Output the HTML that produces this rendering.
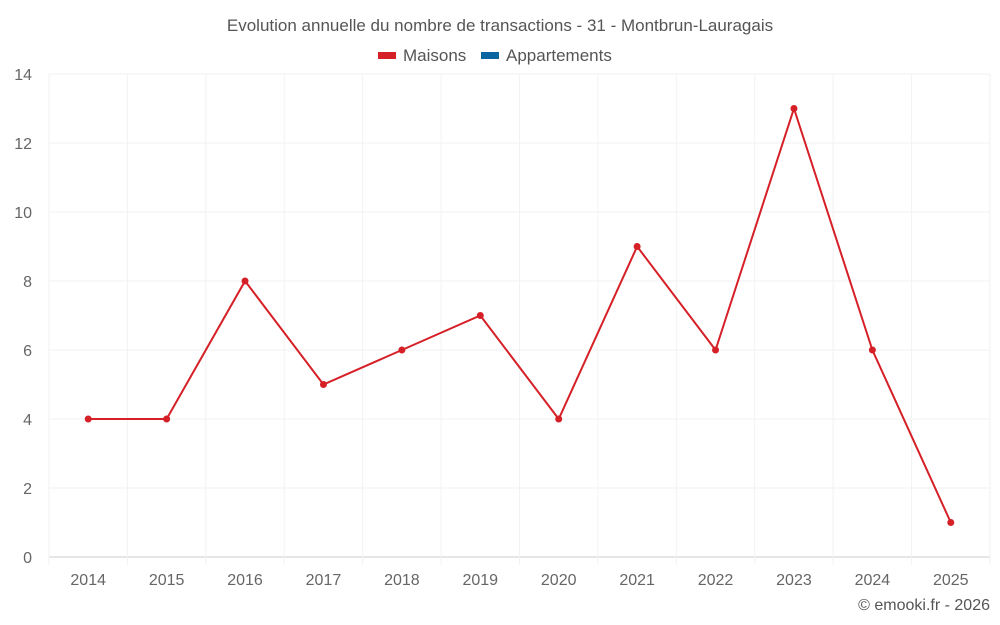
<!DOCTYPE html>
<html><head><meta charset="utf-8"><style>
html,body{margin:0;padding:0;background:#fff;width:1000px;height:625px;overflow:hidden}
svg text{font-family:"Liberation Sans",sans-serif;fill:#555}
</style></head><body>
<svg id="chart" width="1000" height="625" xmlns="http://www.w3.org/2000/svg">
<text x="500" y="31" text-anchor="middle" font-size="17">Evolution annuelle du nombre de transactions - 31 - Montbrun-Lauragais</text>
<g>
<g><rect x="378" y="52" width="18" height="7" fill="#d62027"/><text x="403" y="61" font-size="17">Maisons</text></g>
<g><rect x="481" y="52" width="18" height="7" fill="#0a66a0"/><text x="506" y="61" font-size="17">Appartements</text></g>
</g>
<g id="grid"></g><g id="axes"></g><g id="series"></g>
<text x="990" y="610" text-anchor="end" font-size="16">© emooki.fr - 2026</text>
</svg>
<script>
const categories=["2014","2015","2016","2017","2018","2019","2020","2021","2022","2023","2024","2025"];
const maisons=[4,4,8,5,6,7,4,9,6,13,6,1];
const yTicks=[0,2,4,6,8,10,12,14];
const L=49,R=990,T=74,B=557,yMax=14;
const bw=(R-L)/categories.length;
const x=i=>L+bw*(i+0.5);
const y=v=>B-(v/yMax)*(B-T);
const NS="http://www.w3.org/2000/svg";
function mk(tag,attrs,parent){const e=document.createElementNS(NS,tag);for(const k in attrs)e.setAttribute(k,attrs[k]);document.getElementById(parent).appendChild(e);return e;}
yTicks.forEach(t=>{
 const g=mk('line',{x1:L,x2:R,y1:y(t),y2:y(t),stroke:t===0?'#ccc':'#f2f2f2','stroke-width':1},'grid');
 
 
 const tx=mk('text',{x:32,y:y(t)+6,'text-anchor':'end','font-size':16,style:'fill:#666'},'axes');tx.textContent=t;
 
 
});
for(let i=0;i<=categories.length;i++){
 const gl=mk('line',{x1:L+bw*i,x2:L+bw*i,y1:T,y2:B+8,stroke:'#f2f2f2','stroke-width':1},'grid');
 
 
}
categories.forEach((c,i)=>{
 const tx=mk('text',{x:x(i),y:585,'text-anchor':'middle','font-size':16,style:'fill:#666'},'axes');tx.textContent=c;
 
 
});
const pl=mk('polyline',{points:maisons.map((v,i)=>x(i)+','+y(v)).join(' '),fill:'none',stroke:'#d62027','stroke-width':2},'series');


maisons.forEach((v,i)=>{
 const c=mk('circle',{cx:x(i),cy:y(v),r:3.5,fill:'#d62027'},'series');
 
 
});
</script>
</body></html>
